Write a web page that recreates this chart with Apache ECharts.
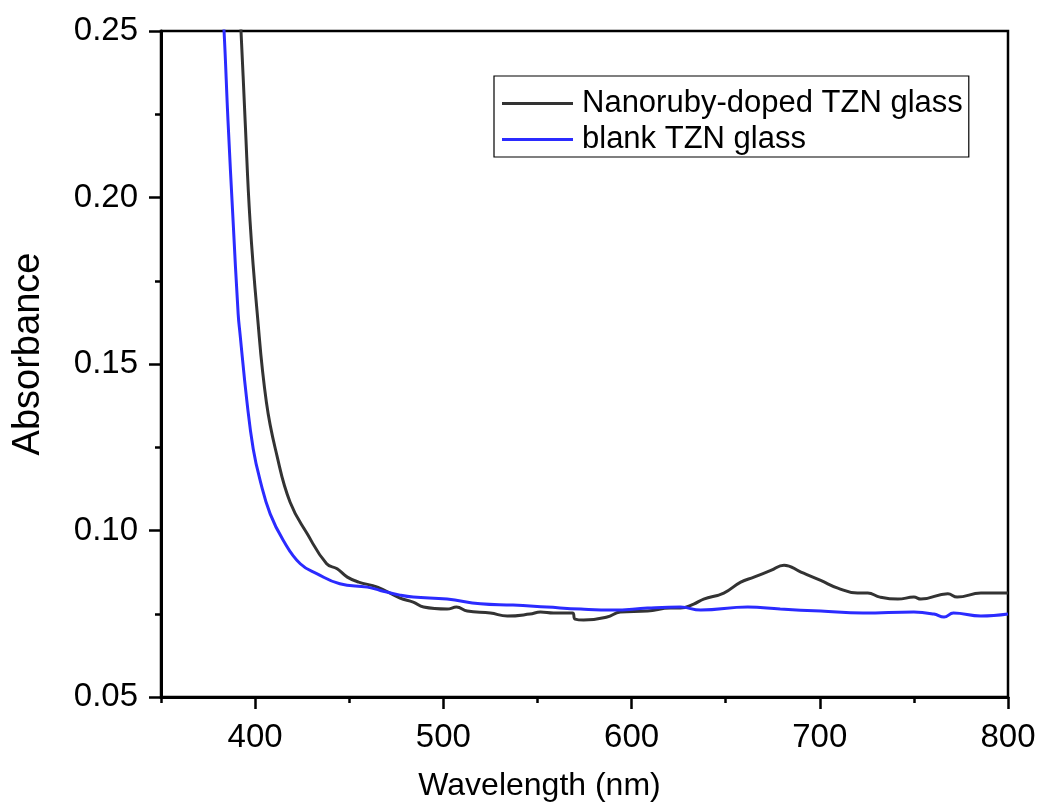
<!DOCTYPE html>
<html>
<head>
<meta charset="utf-8">
<script src="https://cdn.jsdelivr.net/npm/echarts@6/dist/echarts.min.js"></script>
<style>html,body{margin:0;padding:0;background:#fff}#c{width:1042px;height:811px}</style>
</head>
<body>
<div id="c"></div>
<script>
const seriesNames = ['Nanoruby-doped TZN glass', 'blank TZN glass'];
const dopedWavelength = [390, 392.5, 394.7, 397.3, 401, 406, 411.6, 418.6, 427.7, 438, 443.6, 449, 455, 465, 477, 484, 489.5, 502, 507, 512.7, 525, 534, 546, 551.6, 558.5, 568.6, 570, 574.5, 587, 594, 608.5, 620.7, 626, 633, 638.3, 649, 658, 665, 674, 681, 690, 700.5, 709.6, 720, 725.5, 732, 741.5, 750, 753.7, 768, 773, 785.6, 794.7, 800];
const dopedAbsorbance = [0.275, 0.25, 0.223, 0.193, 0.166, 0.1385, 0.1225, 0.1085, 0.099, 0.090, 0.0885, 0.086, 0.0845, 0.083, 0.0797, 0.0785, 0.077, 0.0764, 0.077, 0.0758, 0.0752, 0.0743, 0.0749, 0.0755, 0.0752, 0.0752, 0.0734, 0.0731, 0.074, 0.0755, 0.0758, 0.0767, 0.0767, 0.0779, 0.0794, 0.0812, 0.0845, 0.086, 0.088, 0.0896, 0.0875, 0.085, 0.0827, 0.0812, 0.0812, 0.080, 0.0794, 0.080, 0.0794, 0.081, 0.080, 0.0812, 0.0812, 0.0812];
const blankWavelength = [380, 383.5, 385.6, 388.3, 391, 392, 395.6, 399, 402.7, 408, 415, 424, 433, 445, 459.6, 466.5, 477, 484, 502, 519.7, 537, 555, 573, 590, 608.5, 626, 636.7, 661.7, 679, 700.5, 723, 750, 760.6, 766, 771, 785.6, 800];
const blankAbsorbance = [0.285, 0.25, 0.223, 0.193, 0.165, 0.159, 0.139, 0.1245, 0.115, 0.105, 0.097, 0.090, 0.087, 0.084, 0.083, 0.082, 0.0806, 0.080, 0.0794, 0.078, 0.0776, 0.077, 0.0764, 0.0761, 0.0767, 0.077, 0.0761, 0.077, 0.0764, 0.0758, 0.0752, 0.0755, 0.0749, 0.074, 0.0752, 0.0743, 0.0749];
const xMajorTicks = [400, 500, 600, 700, 800];
const xMinorTicks = [350, 450, 550, 650, 750];
const xTitle = 'Wavelength (nm)';
const yTitle = 'Absorbance';

const FONT = '"Liberation Sans", Arial, sans-serif';
const chart = echarts.init(document.getElementById('c'), null, {renderer: 'canvas'});
const pairs = (xs, ys) => xs.map((x, i) => [x, ys[i]]);

chart.setOption({
  animation: false,
  backgroundColor: '#fff',
  grid: {left: 161, right: 34, top: 31, bottom: 114, show: true, borderColor: '#000', borderWidth: 2.5, backgroundColor: 'transparent'},
  legend: {
    orient: 'vertical', left: 494, top: 76,
    padding: [12, 6, 2, 8], itemGap: 5, itemWidth: 71, itemHeight: 3, icon: 'rect',
    borderColor: '#000', borderWidth: 1.2, borderRadius: 0,
    textStyle: {fontFamily: FONT, fontSize: 31, color: '#000', lineHeight: 30, padding: [0, 0, 0, 4]},
    data: seriesNames
  },
  xAxis: [{
    type: 'value', min: 350, max: 800, position: 'bottom',
    name: xTitle, nameLocation: 'middle', nameGap: 73,
    nameTextStyle: {fontFamily: FONT, fontSize: 32, color: '#000', padding: [0, 90, 0, 0]},
    axisLine: {show: true, onZero: false, lineStyle: {color: '#000', width: 3}},
    axisTick: {show: true, inside: false, length: 12, lineStyle: {color: '#000', width: 2.5}, customValues: xMajorTicks},
    axisLabel: {fontFamily: FONT, fontSize: 33, color: '#000', margin: 24, customValues: xMajorTicks},
    splitLine: {show: false}
  }, {
    type: 'value', min: 350, max: 800, position: 'bottom', gridIndex: 0,
    axisLine: {show: false},
    axisTick: {show: true, length: 6, lineStyle: {color: '#000', width: 2.5}, customValues: xMinorTicks},
    axisLabel: {show: false},
    splitLine: {show: false}
  }],
  yAxis: {
    type: 'value', min: 0.05, max: 0.25, interval: 0.05,
    name: yTitle, nameLocation: 'middle', nameGap: 113,
    nameTextStyle: {fontFamily: FONT, fontSize: 38, color: '#000', padding: [0, 0, 0, 20]},
    axisLine: {show: true, onZero: false, lineStyle: {color: '#000', width: 3}},
    axisTick: {show: true, length: 12, lineStyle: {color: '#000', width: 2.5}},
    minorTick: {show: true, splitNumber: 2, length: 6, lineStyle: {color: '#000', width: 2.5}},
    axisLabel: {fontFamily: FONT, fontSize: 33, color: '#000', margin: 23, formatter: v => v.toFixed(2)},
    splitLine: {show: false}
  },
  series: [{
    name: seriesNames[0], type: 'line', xAxisIndex: 0, showSymbol: false, symbol: 'none',
    smooth: 0.45, clip: true,
    lineStyle: {color: '#333333', width: 3}, itemStyle: {color: '#333333'},
    data: pairs(dopedWavelength, dopedAbsorbance)
  }, {
    name: seriesNames[1], type: 'line', xAxisIndex: 0, showSymbol: false, symbol: 'none',
    smooth: 0.45, clip: true,
    lineStyle: {color: '#2b2bff', width: 3}, itemStyle: {color: '#2b2bff'},
    data: pairs(blankWavelength, blankAbsorbance)
  }]
});
</script>
</body>
</html>
